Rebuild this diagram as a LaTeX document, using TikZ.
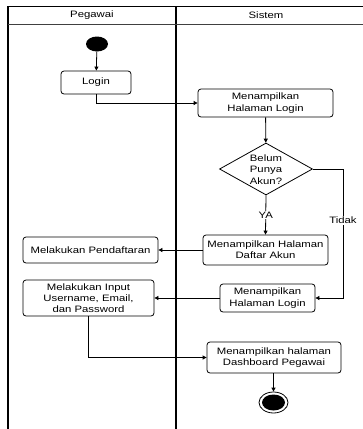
\documentclass[tikz,border=0pt]{standalone}
\usepackage{fontspec}
\setmainfont{Liberation Sans}[FakeStretch=1.22]
\usetikzlibrary{arrows.meta,shapes.geometric}
\begin{document}
\begin{tikzpicture}[x=1pt,y=-1pt,
  every node/.style={font=\fontsize{9.3}{11.2}\selectfont, text=black},
  act/.style={draw, rounded corners=3pt, line width=0.8pt, align=center, inner sep=1pt},
  flow/.style={line width=0.8pt, -{Triangle[length=4pt,width=4pt]}},
  lane/.style={line width=1.2pt}
]
\useasboundingbox (0,0) rectangle (363,429);

% swimlane frame and headers
\draw[lane] (8,429) -- (8,6.5) -- (363,6.5);
\draw[lane] (176,6.5) -- (176,429);
\draw[line width=1.8pt, black!75] (8,24.5) -- (363,24.5);
\node (hpeg) at (92,15.5) {Pegawai};
\node (hsis) at (266,15.5) {Sistem};

% initial node
\node[ellipse, fill=black, minimum width=22pt, minimum height=15pt, inner sep=0] (start) at (97,44) {};

% activities
\node[act, minimum width=70pt, minimum height=23pt] (login) at (96,82.5) {Login};
\node[act, minimum width=135pt, minimum height=28pt] (show1) at (265.5,103) {Menampilkan\\Halaman Login};
\node[diamond, draw, line width=0.8pt, minimum width=93pt, minimum height=52pt, inner sep=0] (dec) at (266,169) {};
\node[align=center] (dectext) at (266,169.5) {Belum\\Punya\\Akun?};
\node[act, minimum width=125pt, minimum height=30pt] (daftar) at (265.5,250) {Menampilkan Halaman\\Daftar Akun};
\node[act, minimum width=135pt, minimum height=26pt] (reg) at (90.5,250) {Melakukan Pendaftaran};
\node[act, minimum width=95pt, minimum height=28pt] (show2) at (267.5,298) {Menampilkan\\Halaman Login};
\node[act, minimum width=131pt, minimum height=36pt] (input) at (88.5,298) {Melakukan Input\\Username, Email,\\dan Password};
\node[act, minimum width=134pt, minimum height=31pt] (dash) at (274,357.5) {Menampilkan halaman\\Dashboard Pegawai};

% final node
\node[ellipse, draw, line width=0.8pt, minimum width=29pt, minimum height=21pt, inner sep=0] (end) at (273.5,402.5) {};
\node[ellipse, fill=black, minimum width=23pt, minimum height=16pt, inner sep=0] (endin) at (end) {};

% control flow
\draw[flow] (start) -- (login);
\draw[flow] (login.south) |- (show1.west);
\draw[flow] (show1) -- (dec);
\draw[flow] (dec.south) -- node[fill=white, inner sep=1pt] (ya) {YA} (daftar.north);
\draw[flow] (daftar) -- (reg);
\coordinate (tr) at (343,169);
\coordinate (br) at (343,298);
\draw[flow] (dec.east) -- (tr) -- node[pos=0.4, fill=white, inner sep=1pt] (tidak) {Tidak} (br) -- (show2.east);
\draw[flow] (show2) -- (input);
\draw[flow] (input.south) |- (dash.west);
\draw[flow] (dash.south -| end) -- (end);
\end{tikzpicture}
\end{document}
